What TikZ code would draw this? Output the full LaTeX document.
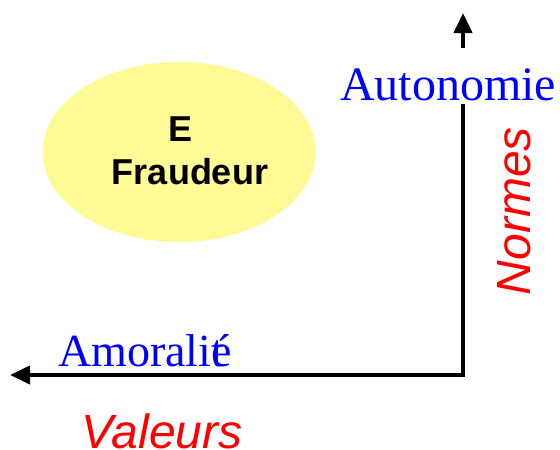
\documentclass[tikz,border=0pt]{standalone}
\usepackage{fontspec}
\setmainfont{Liberation Serif}
\newfontfamily\arialfont{Liberation Sans}
\usetikzlibrary{arrows.meta,shapes.geometric}
\definecolor{ellyellow}{RGB}{255,250,150}
\tikzset{
  axis/.style={line width=4pt,-{Triangle[width=18pt,length=20pt]}},
  axisplain/.style={line width=4pt},
  bluelabel/.style={text=blue,font=\fontsize{48}{52}\selectfont,inner sep=0pt},
  redlabel/.style={text=red,font=\arialfont\itshape\fontsize{48}{52}\selectfont,inner sep=0pt},
  bubble/.style={ellipse,fill=ellyellow,minimum width=273pt,minimum height=180pt,inner sep=0pt},
  bubbletext/.style={font=\arialfont\bfseries\fontsize{36}{40}\selectfont,inner sep=0pt}
}
\begin{document}
\begin{tikzpicture}[x=1pt,y=-1pt]
\useasboundingbox (0,0) rectangle (560,450);
\node[bubble] (ell) at (179,152) {};
\node[bubbletext] (e) at (181,129) {E};
\node[bubbletext] (fr) at (190,172) {Fraudeur};
\coordinate (corner) at (463,375);
\coordinate (uptip) at (463,13);
\coordinate (lefttip) at (10,375);
\node[bluelabel,anchor=base west,text height=52pt,text depth=4pt] (auto) at (340,100) {Autonomie};
\node[bluelabel,font=\fontsize{46}{50}\selectfont,anchor=base west] (amor) at (58,366) {Amorali\rlap{t}\'e};
\node[redlabel,rotate=90,anchor=base] (norm) at (530,211) {Normes};
\node[redlabel,anchor=base] (val) at (162,448) {Valeurs};
\draw[axisplain] (corner) -- (corner |- auto.south);
\draw[axis] (corner |- auto.north) -- (uptip);
\draw[axis] ([xshift=2pt]corner) -- (lefttip);
\end{tikzpicture}
\end{document}
